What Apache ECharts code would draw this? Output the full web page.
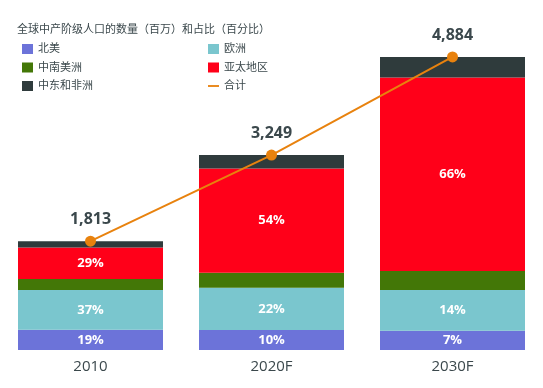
<!DOCTYPE html>
<html><head><meta charset="utf-8">
<script src="https://cdn.jsdelivr.net/npm/echarts@6/dist/echarts.min.js"></script>
<style>html,body{margin:0;padding:0;background:#fff}#c{width:543px;height:388px}</style>
</head><body><div id="c"></div>
<script>
const categories = ['2010', '2020F', '2030F'];
const northAmerica = [338, 333, 322];
const europe = [664, 703, 680];
const latinAmerica = [181, 251, 313];
const asiaPacific = [525, 1740, 3228];
const middleEastAfrica = [105, 222, 341];
const totals = [1813, 3249, 4884];
const titleText = '全球中产阶级人口的数量（百万）和占比（百分比）';

const FONT = '"Open Sans","Noto Sans CJK SC",sans-serif';
const TXT = '#3b484c';
const chart = echarts.init(document.getElementById('c'), null, {renderer: 'canvas'});

function pctLabel(arr) {
  return {
    show: true, position: 'inside', color: '#fff', fontWeight: 'bold', fontSize: 13, fontFamily: FONT,
    formatter: p => Math.round(arr[p.dataIndex] / totals[p.dataIndex] * 100) + '%'
  };
}
function bar(name, data, color, label) {
  return {
    name, type: 'bar', stack: 'all', data, barWidth: 145,
    itemStyle: {color},
    label: label || {show: false},
    emphasis: {disabled: true}
  };
}

chart.setOption({
  animation: false,
  title: {
    text: titleText, left: 12, top: 19,
    textStyle: {fontSize: 11, fontWeight: 'normal', color: TXT, fontFamily: FONT}
  },
  legend: [
    {
      data: [{name: '北美'}, {name: '中南美洲'}, {name: '中东和非洲'}],
      orient: 'vertical', left: 17, top: 43, itemWidth: 11, itemHeight: 10, itemGap: 6.5,
      icon: 'rect', selectedMode: false, padding: [0, 5],
      textStyle: {fontSize: 11, color: TXT, fontFamily: FONT, lineHeight: 12}
    },
    {
      data: [{name: '欧洲'}, {name: '亚太地区'}, {name: '合计', icon: 'path://M0,0h12v2H0z'}],
      orient: 'vertical', left: 203, top: 43, itemWidth: 11, itemHeight: 10, itemGap: 6.5,
      icon: 'rect', selectedMode: false, padding: [0, 5],
      textStyle: {fontSize: 11, color: TXT, fontFamily: FONT, lineHeight: 12}
    }
  ],
  grid: {left: 0, right: 0, top: 50, bottom: 38, containLabel: false},
  xAxis: {
    type: 'category', data: categories,
    axisLine: {show: false}, axisTick: {show: false},
    axisLabel: {fontSize: 15, color: TXT, fontFamily: FONT, margin: 9}
  },
  yAxis: {type: 'value', min: 0, max: 5000, show: false, splitLine: {show: false}},
  series: [
    bar('北美', northAmerica, '#6c73d9', pctLabel(northAmerica)),
    bar('欧洲', europe, '#7ac6ce', pctLabel(europe)),
    bar('中南美洲', latinAmerica, '#437707'),
    bar('亚太地区', asiaPacific, '#ff0019', pctLabel(asiaPacific)),
    bar('中东和非洲', middleEastAfrica, '#2f3b3c'),
    {
      name: '合计', type: 'line', data: totals, z: 5,
      symbol: 'circle', symbolSize: 11,
      lineStyle: {color: '#e8820e', width: 2},
      itemStyle: {color: '#e8820e'},
      label: {
        show: true, position: 'top', distance: 8,
        fontSize: 16, fontWeight: 'bold', color: TXT, fontFamily: FONT,
        formatter: p => p.value.toLocaleString('en-US')
      },
      emphasis: {disabled: true}
    }
  ]
});
</script></body></html>
